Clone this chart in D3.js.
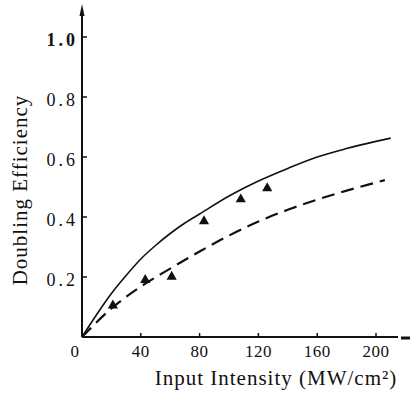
<!DOCTYPE html>
<html>
<head>
<meta charset="utf-8">
<script src="https://cdn.jsdelivr.net/npm/d3@7"></script>
<style>
  body { margin: 0; background: #fff; }
  text { font-family: "Liberation Serif", "DejaVu Serif", serif; fill: #111; }
</style>
</head>
<body>
<div id="chart"></div>
<script>
// tick values
const xTicks = [0, 40, 80, 120, 160, 200];
const yTicks = [0.2, 0.4, 0.6, 0.8, 1.0];

// theory curve (solid)
const solidX = [0, 10, 20, 30, 40, 50, 60, 70, 80, 100, 120, 140, 160, 180, 200, 210];
const solidY = [0, 0.075, 0.145, 0.205, 0.26, 0.305, 0.345, 0.38, 0.41, 0.47, 0.52, 0.562, 0.60, 0.628, 0.652, 0.663];

// fitted curve (dashed)
const dashX = [0, 20, 40, 60, 80, 100, 120, 140, 160, 180, 200, 206];
const dashY = [0, 0.095, 0.168, 0.228, 0.285, 0.338, 0.385, 0.424, 0.458, 0.488, 0.515, 0.523];

// measured points (triangles)
const ptX = [21, 43, 61, 83, 108, 126];
const ptY = [0.105, 0.19, 0.201, 0.386, 0.459, 0.496];

const W = 411, H = 394;
const svg = d3.select('#chart').append('svg')
    .attr('width', W)
    .attr('height', H);

const x = d3.scaleLinear().domain([0, 200]).range([82, 376]);
const y = d3.scaleLinear().domain([0, 1]).range([337, 37]);

// axes lines
svg.append('line')
    .attr('x1', x(0)).attr('y1', y(0))
    .attr('x2', 398).attr('y2', y(0))
    .attr('stroke', '#111').attr('stroke-width', 2);
svg.append('line')
    .attr('x1', 401).attr('y1', y(0) + 1)
    .attr('x2', 410).attr('y2', y(0) + 1)
    .attr('stroke', '#111').attr('stroke-width', 3);
svg.append('line')
    .attr('x1', x(0)).attr('y1', y(0))
    .attr('x2', x(0)).attr('y2', 12)
    .attr('stroke', '#111').attr('stroke-width', 2);
svg.append('path')
    .attr('d', `M${x(0) - 2.5},16 L${x(0)},4 L${x(0) + 2.5},16 Z`)
    .attr('fill', '#111');

// ticks
svg.selectAll('.xt').data(xTicks.slice(1)).enter().append('line')
    .attr('x1', d => x(d)).attr('x2', d => x(d))
    .attr('y1', y(0)).attr('y2', y(0) - 4)
    .attr('stroke', '#111').attr('stroke-width', 1.5);
svg.selectAll('.yt').data(yTicks).enter().append('line')
    .attr('x1', x(0)).attr('x2', x(0) + 5)
    .attr('y1', d => y(d)).attr('y2', d => y(d))
    .attr('stroke', '#111').attr('stroke-width', 1.5);

// tick labels
svg.selectAll('.xl').data(xTicks).enter().append('text')
    .attr('x', d => d === 0 ? x(d) - 7 : x(d))
    .attr('y', 357)
    .attr('text-anchor', 'middle')
    .style('font-size', '17px')
    .style('letter-spacing', '0.5px')
    .text(d => d);
svg.selectAll('.yl').data(yTicks).enter().append('text')
    .attr('x', 78)
    .attr('y', d => y(d) + 9)
    .attr('text-anchor', 'end')
    .style('font-size', '18px')
    .style('font-weight', d => d === 1 ? 'bold' : 'normal')
    .style('letter-spacing', '3px')
    .text(d => d.toFixed(1));

// axis titles
svg.append('text')
    .attr('x', 276).attr('y', 385)
    .attr('text-anchor', 'middle')
    .style('font-size', '21px')
    .style('letter-spacing', '1px')
    .text('Input Intensity (MW/cm²)');
svg.append('text')
    .attr('transform', 'translate(27,190) rotate(-90)')
    .attr('text-anchor', 'middle')
    .style('font-size', '21px')
    .style('letter-spacing', '1px')
    .text('Doubling Efficiency');

// curves
const line = d3.line().x(d => x(d[0])).y(d => y(d[1])).curve(d3.curveMonotoneX);
svg.append('path')
    .datum(solidX.map((v, i) => [v, solidY[i]]))
    .attr('d', line)
    .attr('fill', 'none')
    .attr('stroke', '#111')
    .attr('stroke-width', 1.6);
svg.append('path')
    .datum(dashX.map((v, i) => [v, dashY[i]]))
    .attr('d', line)
    .attr('fill', 'none')
    .attr('stroke', '#111')
    .attr('stroke-width', 2.2)
    .attr('stroke-dasharray', '13,7');

// triangles
svg.selectAll('.pt').data(ptX.map((v, i) => [v, ptY[i]])).enter().append('path')
    .attr('d', d3.symbol().type(d3.symbolTriangle).size(45))
    .attr('transform', d => `translate(${x(d[0])},${y(d[1])})`)
    .attr('fill', '#111');
</script>
</body>
</html>
